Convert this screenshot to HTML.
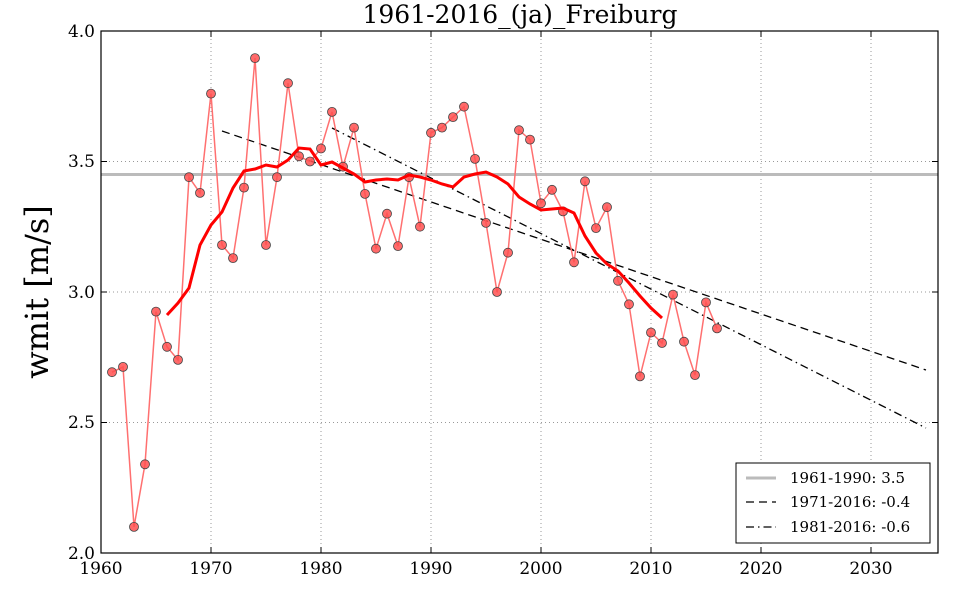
<!DOCTYPE html>
<html><head><meta charset="utf-8"><style>
html,body{margin:0;padding:0;background:#fff;}
svg{display:block;font-family:"DejaVu Serif","Liberation Serif",serif;}
</style></head><body>
<svg width="960" height="600" viewBox="0 0 960 600" xmlns="http://www.w3.org/2000/svg">
<rect width="960" height="600" fill="#fff"/>
<text x="520" y="23" font-size="25" text-anchor="middle">1961-2016_(ja)_Freiburg</text>
<text transform="translate(48,292) rotate(-90)" font-size="32" text-anchor="middle">wmit [m/s]</text>
<g stroke="#999" stroke-dasharray="1,3" stroke-width="1">
<line x1="211" y1="31" x2="211" y2="553"/><line x1="321" y1="31" x2="321" y2="553"/><line x1="431" y1="31" x2="431" y2="553"/><line x1="541" y1="31" x2="541" y2="553"/><line x1="651" y1="31" x2="651" y2="553"/><line x1="761" y1="31" x2="761" y2="553"/><line x1="871" y1="31" x2="871" y2="553"/>
<line x1="101" y1="161.5" x2="938" y2="161.5"/><line x1="101" y1="292" x2="938" y2="292"/><line x1="101" y1="422.5" x2="938" y2="422.5"/>
</g>
<line x1="101" y1="174.5" x2="938" y2="174.5" stroke="#bbb" stroke-width="3"/>
<line x1="222" y1="131" x2="926" y2="370" stroke="#000" stroke-width="1.3" stroke-dasharray="8,5"/>
<line x1="332" y1="128" x2="926" y2="428" stroke="#000" stroke-width="1.3" stroke-dasharray="8,4,1.5,4"/>
<polyline fill="none" stroke="#ff7070" stroke-width="1.5" points="112,372.2 123,366.9 134,526.9 145,464.3 156,311.6 167,346.8 178,359.9 189,177.2 200,192.9 211,93.6 222,245.0 233,258.1 244,187.6 255,58.1 266,245.0 277,177.2 288,83.2 299,156.3 310,161.5 321,148.5 332,111.9 343,166.7 354,127.6 365,193.9 376,248.7 387,213.7 398,246.1 409,177.2 420,226.7 431,132.8 442,127.6 453,117.1 464,106.7 475,158.9 486,222.9 497,292.0 508,252.7 519,130.2 530,139.6 541,203.3 552,189.8 563,211.4 574,262.3 585,181.3 596,228.1 607,207.2 618,280.8 629,304.3 640,376.4 651,332.5 662,343.0 673,294.6 684,341.7 695,375.1 706,302.4 717,328.4"/>
<g fill="#ff5050" fill-opacity="0.85" stroke="#444" stroke-width="0.8">
<circle cx="112" cy="372.2" r="4.5"/><circle cx="123" cy="366.9" r="4.5"/><circle cx="134" cy="526.9" r="4.5"/><circle cx="145" cy="464.3" r="4.5"/><circle cx="156" cy="311.6" r="4.5"/><circle cx="167" cy="346.8" r="4.5"/><circle cx="178" cy="359.9" r="4.5"/><circle cx="189" cy="177.2" r="4.5"/><circle cx="200" cy="192.9" r="4.5"/><circle cx="211" cy="93.6" r="4.5"/><circle cx="222" cy="245.0" r="4.5"/><circle cx="233" cy="258.1" r="4.5"/><circle cx="244" cy="187.6" r="4.5"/><circle cx="255" cy="58.1" r="4.5"/><circle cx="266" cy="245.0" r="4.5"/><circle cx="277" cy="177.2" r="4.5"/><circle cx="288" cy="83.2" r="4.5"/><circle cx="299" cy="156.3" r="4.5"/><circle cx="310" cy="161.5" r="4.5"/><circle cx="321" cy="148.5" r="4.5"/><circle cx="332" cy="111.9" r="4.5"/><circle cx="343" cy="166.7" r="4.5"/><circle cx="354" cy="127.6" r="4.5"/><circle cx="365" cy="193.9" r="4.5"/><circle cx="376" cy="248.7" r="4.5"/><circle cx="387" cy="213.7" r="4.5"/><circle cx="398" cy="246.1" r="4.5"/><circle cx="409" cy="177.2" r="4.5"/><circle cx="420" cy="226.7" r="4.5"/><circle cx="431" cy="132.8" r="4.5"/><circle cx="442" cy="127.6" r="4.5"/><circle cx="453" cy="117.1" r="4.5"/><circle cx="464" cy="106.7" r="4.5"/><circle cx="475" cy="158.9" r="4.5"/><circle cx="486" cy="222.9" r="4.5"/><circle cx="497" cy="292.0" r="4.5"/><circle cx="508" cy="252.7" r="4.5"/><circle cx="519" cy="130.2" r="4.5"/><circle cx="530" cy="139.6" r="4.5"/><circle cx="541" cy="203.3" r="4.5"/><circle cx="552" cy="189.8" r="4.5"/><circle cx="563" cy="211.4" r="4.5"/><circle cx="574" cy="262.3" r="4.5"/><circle cx="585" cy="181.3" r="4.5"/><circle cx="596" cy="228.1" r="4.5"/><circle cx="607" cy="207.2" r="4.5"/><circle cx="618" cy="280.8" r="4.5"/><circle cx="629" cy="304.3" r="4.5"/><circle cx="640" cy="376.4" r="4.5"/><circle cx="651" cy="332.5" r="4.5"/><circle cx="662" cy="343.0" r="4.5"/><circle cx="673" cy="294.6" r="4.5"/><circle cx="684" cy="341.7" r="4.5"/><circle cx="695" cy="375.1" r="4.5"/><circle cx="706" cy="302.4" r="4.5"/><circle cx="717" cy="328.4" r="4.5"/>
</g>
<polyline fill="none" stroke="#ff0000" stroke-width="3" points="167,315 178,303 189,288 200,245 211,225 222,212 233,188 244,171 255,169 266,165 277,167 288,160 299,148 310,149 321,165 332,162 343,168 354,174 365,182 376,180 387,179 398,180 409,175 420,177 431,180 442,184 453,187 464,177 475,174 486,172 497,177 508,184 519,197 530,204 541,210 552,209 563,208 574,213 585,236 596,253 607,264 618,271 629,283 640,296 651,308 662,318"/>
<rect x="101" y="31" width="837" height="522" fill="none" stroke="#000" stroke-width="1.2"/>
<g stroke="#000" stroke-width="1">
<line x1="211" y1="553" x2="211" y2="547"/><line x1="321" y1="553" x2="321" y2="547"/><line x1="431" y1="553" x2="431" y2="547"/><line x1="541" y1="553" x2="541" y2="547"/><line x1="651" y1="553" x2="651" y2="547"/><line x1="761" y1="553" x2="761" y2="547"/><line x1="871" y1="553" x2="871" y2="547"/>
<line x1="211" y1="31" x2="211" y2="37"/><line x1="321" y1="31" x2="321" y2="37"/><line x1="431" y1="31" x2="431" y2="37"/><line x1="541" y1="31" x2="541" y2="37"/><line x1="651" y1="31" x2="651" y2="37"/><line x1="761" y1="31" x2="761" y2="37"/><line x1="871" y1="31" x2="871" y2="37"/>
<line x1="101" y1="161.5" x2="107" y2="161.5"/><line x1="101" y1="292" x2="107" y2="292"/><line x1="101" y1="422.5" x2="107" y2="422.5"/>
<line x1="938" y1="161.5" x2="932" y2="161.5"/><line x1="938" y1="292" x2="932" y2="292"/><line x1="938" y1="422.5" x2="932" y2="422.5"/>
</g>
<g font-size="17" text-anchor="middle">
<text x="101" y="574">1960</text><text x="211" y="574">1970</text><text x="321" y="574">1980</text><text x="431" y="574">1990</text><text x="541" y="574">2000</text><text x="651" y="574">2010</text><text x="761" y="574">2020</text><text x="871" y="574">2030</text>
</g>
<g font-size="17" text-anchor="end">
<text x="95" y="37">4.0</text><text x="95" y="167">3.5</text><text x="95" y="298">3.0</text><text x="95" y="428">2.5</text><text x="95" y="559">2.0</text>
</g>
<rect x="736" y="463" width="194" height="80" fill="#fff" stroke="#000" stroke-width="1"/>
<line x1="746" y1="478" x2="776" y2="478" stroke="#bbb" stroke-width="3"/>
<line x1="746" y1="502" x2="776" y2="502" stroke="#000" stroke-width="1.3" stroke-dasharray="8,5"/>
<line x1="746" y1="527" x2="776" y2="527" stroke="#000" stroke-width="1.3" stroke-dasharray="8,4,1.5,4"/>
<g font-size="15"><text x="790" y="483">1961-1990: 3.5</text><text x="790" y="507">1971-2016: -0.4</text><text x="790" y="532">1981-2016: -0.6</text></g>
</svg>
</body></html>
